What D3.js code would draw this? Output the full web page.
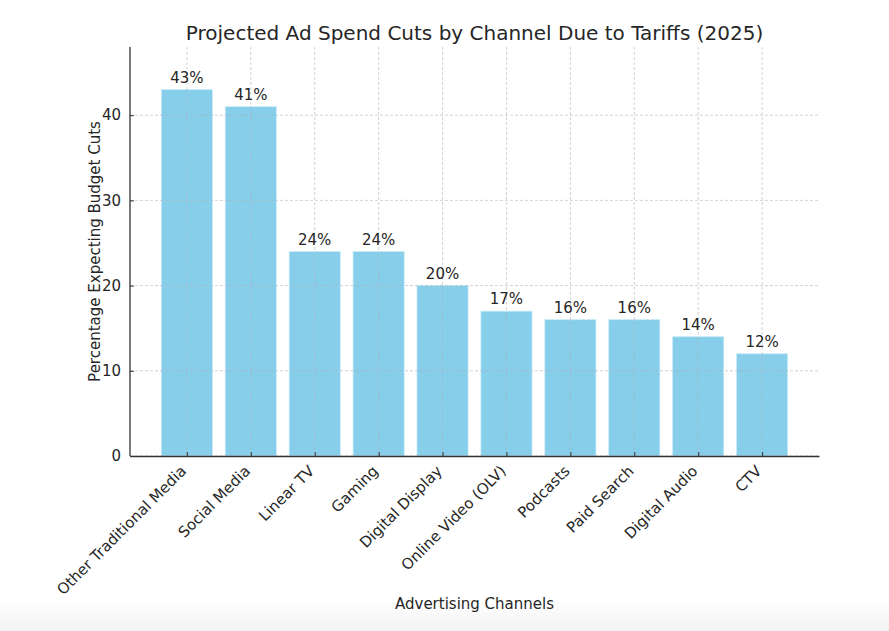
<!DOCTYPE html>
<html>
<head>
<meta charset="utf-8">
<script src="https://cdn.jsdelivr.net/npm/d3@7"></script>
<style>
  html, body { margin: 0; padding: 0; background: #fff; }
  text { font-family: "DejaVu Sans", sans-serif; fill: #262626; }
</style>
</head>
<body>
<div id="chart"></div>
<script>
// data
const channels = [
  'Other Traditional Media', 'Social Media', 'Linear TV', 'Gaming', 'Digital Display',
  'Online Video (OLV)', 'Podcasts', 'Paid Search', 'Digital Audio', 'CTV',
];
const cutShares = [43, 41, 24, 24, 20, 17, 16, 16, 14, 12];
const yTicks = [0, 10, 20, 30, 40];

const width = 889;
const height = 631;
const margin = { top: 47, right: 70, bottom: 175, left: 130 };
const innerW = width - margin.left - margin.right;
const innerH = height - margin.top - margin.bottom;

const svg = d3.select('#chart')
  .append('svg')
  .attr('width', width)
  .attr('height', height);

// faint screenshot shadow at the bottom
const grad = svg.append('defs').append('linearGradient')
  .attr('id', 'fade').attr('x1', 0).attr('x2', 0).attr('y1', 0).attr('y2', 1);
grad.append('stop').attr('offset', 0).attr('stop-color', '#fff');
grad.append('stop').attr('offset', 1).attr('stop-color', '#f2f2f2');
svg.append('rect')
  .attr('x', 0).attr('y', 600).attr('width', width).attr('height', 31)
  .attr('fill', 'url(#fade)');

const g = svg.append('g')
  .attr('transform', `translate(${margin.left},${margin.top})`);

// matplotlib style: bars width 0.8 with 5% margins on each side
const n = channels.length;
const x = d3.scaleLinear()
  .domain([-0.4 - 0.049 * n, n - 1 + 0.4 + 0.049 * n])
  .range([0, innerW]);
const bw = x(0.8) - x(0);

const y = d3.scaleLinear()
  .domain([0, 48])
  .range([innerH, 0]);

// bars
g.append('g')
  .selectAll('rect')
  .data(cutShares)
  .join('rect')
  .attr('x', (d, i) => x(i - 0.4))
  .attr('y', (d) => y(d))
  .attr('width', bw)
  .attr('height', (d) => y(0) - y(d))
  .attr('fill', '#87ceeb')
  .attr('stroke', '#c9ebf7')
  .attr('stroke-width', 0.8);

// grid drawn over the bars
const grid = g.append('g')
  .attr('stroke', '#b0b0b0')
  .attr('stroke-opacity', 0.7)
  .attr('stroke-width', 0.8)
  .attr('stroke-dasharray', '3,2');

grid.selectAll('.gy')
  .data(yTicks)
  .join('line')
  .attr('x1', 0)
  .attr('x2', innerW)
  .attr('y1', (d) => y(d))
  .attr('y2', (d) => y(d));

grid.selectAll('.gx')
  .data(d3.range(n))
  .join('line')
  .attr('x1', (d) => x(d))
  .attr('x2', (d) => x(d))
  .attr('y1', 0)
  .attr('y2', innerH);

// value labels
g.append('g')
  .selectAll('text')
  .data(cutShares)
  .join('text')
  .attr('x', (d, i) => x(i))
  .attr('y', (d) => y(d) - 7)
  .attr('text-anchor', 'middle')
  .style('font-size', '15px')
  .text((d) => `${d}%`);

// axes
const yAxis = d3.axisLeft(y)
  .tickValues(yTicks)
  .tickSize(-4)
  .tickPadding(9);

g.append('g')
  .attr('class', 'axis axis-y')
  .call(yAxis)
  .call((a) => a.select('.domain').attr('stroke', '#333').attr('stroke-width', 1.3))
  .call((a) => a.selectAll('.tick line').attr('stroke', '#333'))
  .call((a) => a.selectAll('.tick text').style('font-size', '15px').attr('fill', '#262626'));

const xAxis = d3.axisBottom(x)
  .tickValues(d3.range(n))
  .tickFormat((i) => channels[i])
  .tickSize(-4)
  .tickSizeOuter(0);

g.append('g')
  .attr('class', 'axis axis-x')
  .attr('transform', `translate(0,${innerH})`)
  .call(xAxis)
  .call((a) => a.select('.domain').attr('stroke', '#333').attr('stroke-width', 1.3))
  .call((a) => a.selectAll('.tick line').attr('stroke', '#333'))
  .call((a) => a.selectAll('.tick text')
    .style('font-size', '15px')
    .attr('fill', '#262626')
    .attr('text-anchor', 'end')
    .attr('dy', null)
    .attr('y', null)
    .attr('transform', 'translate(-8,8) rotate(-45)')
    .attr('dominant-baseline', 'hanging'));

// y domain spine stops at axis top, remove outer ticks from y
g.select('.axis-y .domain').attr('d', `M0,${innerH}V0`);

// titles
svg.append('text')
  .attr('x', margin.left + innerW / 2)
  .attr('y', 34)
  .attr('text-anchor', 'middle')
  .attr('dominant-baseline', 'middle')
  .style('font-size', '20px')
  .text('Projected Ad Spend Cuts by Channel Due to Tariffs (2025)');

svg.append('text')
  .attr('x', margin.left + innerW / 2)
  .attr('y', 604)
  .attr('text-anchor', 'middle')
  .attr('dominant-baseline', 'middle')
  .style('font-size', '15px')
  .text('Advertising Channels');

svg.append('text')
  .attr('transform', `translate(95,${margin.top + innerH / 2}) rotate(-90)`)
  .attr('text-anchor', 'middle')
  .attr('dominant-baseline', 'middle')
  .style('font-size', '15px')
  .text('Percentage Expecting Budget Cuts');
</script>
</body>
</html>
